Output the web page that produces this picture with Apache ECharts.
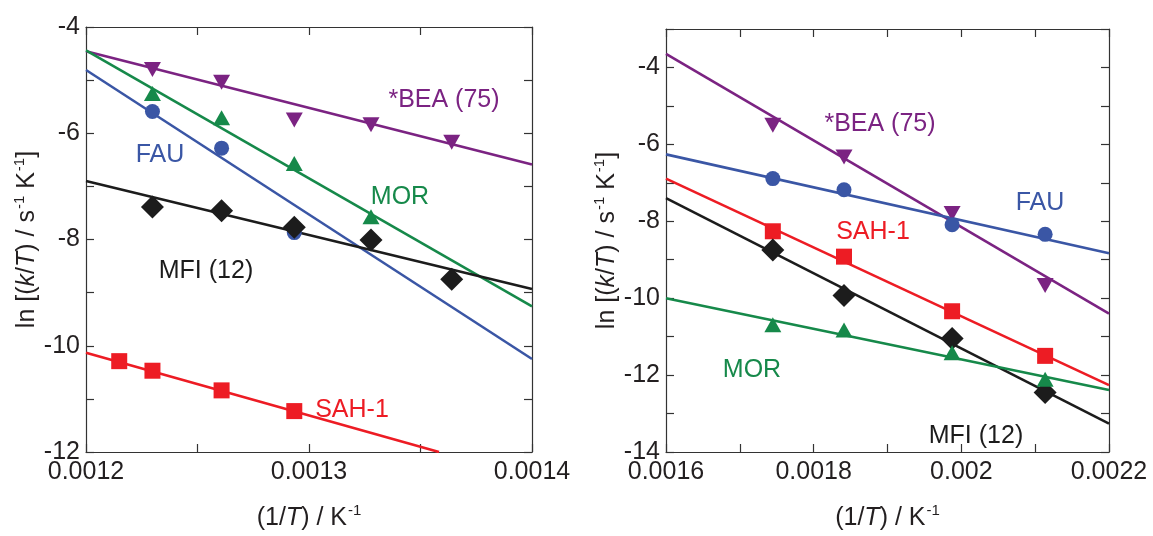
<!DOCTYPE html>
<html>
<head>
<meta charset="utf-8">
<title>Arrhenius plots</title>
<script src="https://cdn.jsdelivr.net/npm/echarts@6/dist/echarts.min.js"></script>
<style>
  html, body { margin: 0; padding: 0; background: #fff; }
  #chart { width: 1153px; height: 536px; }
</style>
</head>
<body>
<div id="chart"></div>
<script>
// ---- Left panel: (1/T) in K^-1, ln[(k/T)/s^-1 K^-1] ----
const leftBeaX = [0.0012298, 0.0012608, 0.0012934, 0.0013278, 0.0013640];
const leftBeaY = [-4.80, -5.04, -5.75, -5.84, -6.17];
const leftMorX = [0.0012298, 0.0012608, 0.0012934, 0.0013278];
const leftMorY = [-5.25, -5.71, -6.57, -7.57];
const leftFauX = [0.0012298, 0.0012608, 0.0012934];
const leftFauY = [-5.59, -6.28, -7.87];
const leftMfiX = [0.0012298, 0.0012608, 0.0012934, 0.0013278, 0.0013640];
const leftMfiY = [-7.39, -7.46, -7.77, -8.01, -8.75];
const leftSahX = [0.0012149, 0.0012298, 0.0012608, 0.0012934];
const leftSahY = [-10.29, -10.47, -10.84, -11.23];

// fitted lines (end points)
const leftBeaFitX = [0.0012, 0.0014];   const leftBeaFitY = [-4.455, -6.59];
const leftMorFitX = [0.0012, 0.0014];   const leftMorFitY = [-4.44, -9.26];
const leftFauFitX = [0.0012, 0.0014];   const leftFauFitY = [-4.81, -10.25];
const leftMfiFitX = [0.0012, 0.0014];   const leftMfiFitY = [-6.90, -8.93];
const leftSahFitX = [0.0012, 0.0013583]; const leftSahFitY = [-10.13, -12.0];

// ---- Right panel ----
const rightX = [0.0017447, 0.0018411, 0.0019875, 0.0021135];
const rightBeaY = [-5.50, -6.33, -7.80, -9.67];
const rightFauY = [-6.89, -7.18, -8.09, -8.34];
const rightSahY = [-8.26, -8.92, -10.34, -11.50];
const rightMfiY = [-8.75, -9.93, -11.05, -12.45];
const rightMorY = [-10.69, -10.83, -11.42, -12.11];

const rightFitX = [0.0016, 0.0022];
const rightBeaFitY = [-3.65, -10.40];
const rightFauFitY = [-6.26, -8.83];
const rightSahFitY = [-6.89, -12.26];
const rightMfiFitY = [-7.40, -13.26];
const rightMorFitY = [-10.00, -12.39];

// axis ranges, tick steps and label steps
const leftXRange = [0.0012, 0.0014];  const leftXStep = 0.00005; const leftXLabelStep = 0.0001;
const leftYRange = [-12, -4];         const leftYStep = 1;       const leftYLabelStep = 2;
const rightXRange = [0.0016, 0.0022]; const rightXStep = 0.0001; const rightXLabelStep = 0.0002;
const rightYRange = [-14, -3];        const rightYStep = 1;      const rightYLabelStep = 2;

const COLORS = {
  bea: '#7b2382',
  fau: '#3a56a5',
  mor: '#16894a',
  mfi: '#1c1c1c',
  sah: '#ed1c24'
};
const FONT = "'Liberation Sans', Arial, Helvetica, sans-serif";
const INK = '#231f20';

function zip(xs, ys) { return xs.map((x, i) => [x, ys[i]]); }

const chart = echarts.init(document.getElementById('chart'), null, { renderer: 'canvas' });

// label only the ticks that fall on a multiple of labelStep
function labelEvery(labelStep) {
  return function (v) {
    const n = v / labelStep;
    if (Math.abs(n - Math.round(n)) > 1e-6) return '';
    return String(parseFloat(v.toFixed(5)));
  };
}

const axisLine = { show: true, onZero: false, lineStyle: { color: '#333', width: 1.2 } };
const axisTick = { show: true, inside: true, length: 8, lineStyle: { color: '#333', width: 1.2 } };
const labelStyle = { color: INK, fontSize: 25, fontFamily: FONT };

const yName = '{t|ln [(}{i|k}{t|/}{i|T}{t|) / s}{s|-1}{t| K}{s|-1}{t|]}';
const xName = '{t|(1/}{i|T}{t|) / K}{s|-1}';
const nameRich = {
  t: { fontSize: 25, fontFamily: FONT, color: INK, lineHeight: 32, verticalAlign: 'bottom' },
  i: { fontSize: 25, fontFamily: FONT, color: INK, fontStyle: 'italic', lineHeight: 32, verticalAlign: 'bottom' },
  s: { fontSize: 15, fontFamily: FONT, color: INK, lineHeight: 32, verticalAlign: 'bottom', padding: [0, 0, 13, 1] }
};

function mainX(gridIndex, range, step, labelStep) {
  return {
    type: 'value', gridIndex, position: 'bottom', min: range[0], max: range[1], interval: step,
    axisLine, axisTick, splitLine: { show: false },
    axisLabel: { ...labelStyle, margin: 8, formatter: labelEvery(labelStep), showMinLabel: true, showMaxLabel: true, hideOverlap: false },
    name: xName, nameLocation: 'middle', nameGap: 47, nameTextStyle: { rich: nameRich }
  };
}
function mirrorX(gridIndex, range, step) {
  return {
    type: 'value', gridIndex, position: 'top', min: range[0], max: range[1], interval: step,
    axisLine, axisTick, splitLine: { show: false }, axisLabel: { show: false }
  };
}
function mainY(gridIndex, range, step, labelStep) {
  return {
    type: 'value', gridIndex, position: 'left', min: range[0], max: range[1], interval: step,
    axisLine, axisTick, splitLine: { show: false },
    axisLabel: { ...labelStyle, margin: 6, formatter: labelEvery(labelStep), hideOverlap: false },
    name: yName, nameLocation: 'middle', nameRotate: 90, nameGap: 40, nameTextStyle: { rich: nameRich }
  };
}
function mirrorY(gridIndex, range, step) {
  return {
    type: 'value', gridIndex, position: 'right', min: range[0], max: range[1], interval: step,
    axisLine, axisTick, splitLine: { show: false }, axisLabel: { show: false }
  };
}

function fitLine(name, xi, yi, xs, ys, color) {
  return {
    name, type: 'line', xAxisIndex: xi, yAxisIndex: yi, data: zip(xs, ys),
    symbol: 'none', lineStyle: { color, width: 2.6 }, silent: true, z: 2, animation: false
  };
}
function points(name, xi, yi, xs, ys, color, symbol, size, rotate) {
  return {
    name, type: 'scatter', xAxisIndex: xi, yAxisIndex: yi, data: zip(xs, ys),
    symbol, symbolSize: size, symbolRotate: rotate || 0,
    itemStyle: { color, opacity: 1 }, z: 3, animation: false
  };
}

const SYM = {
  down: ['triangle', [17, 15], 180],
  up: ['triangle', [17, 15], 0],
  circle: ['circle', 15, 0],
  diamond: ['diamond', [23, 23], 0],
  square: ['rect', [16, 16], 0]
};

function labelText(text, x, y, color) {
  return {
    type: 'text', x, y, z: 10,
    style: { text, fill: color, font: '25px ' + FONT, textAlign: 'center', textVerticalAlign: 'middle' }
  };
}

const option = {
  backgroundColor: '#ffffff',
  animation: false,
  grid: [
    { left: 86, top: 27, width: 446, height: 446 },
    { left: 666, top: 29, width: 443, height: 443 }
  ],
  xAxis: [
    mainX(0, leftXRange, leftXStep, leftXLabelStep),
    mirrorX(0, leftXRange, leftXStep),
    mainX(1, rightXRange, rightXStep, rightXLabelStep),
    mirrorX(1, rightXRange, rightXStep)
  ],
  yAxis: [
    mainY(0, leftYRange, leftYStep, leftYLabelStep),
    mirrorY(0, leftYRange, leftYStep),
    mainY(1, rightYRange, rightYStep, rightYLabelStep),
    mirrorY(1, rightYRange, rightYStep)
  ],
  series: [
    fitLine('*BEA (75) fit', 0, 0, leftBeaFitX, leftBeaFitY, COLORS.bea),
    fitLine('MOR fit', 0, 0, leftMorFitX, leftMorFitY, COLORS.mor),
    fitLine('FAU fit', 0, 0, leftFauFitX, leftFauFitY, COLORS.fau),
    fitLine('MFI (12) fit', 0, 0, leftMfiFitX, leftMfiFitY, COLORS.mfi),
    fitLine('SAH-1 fit', 0, 0, leftSahFitX, leftSahFitY, COLORS.sah),
    points('*BEA (75)', 0, 0, leftBeaX, leftBeaY, COLORS.bea, ...SYM.down),
    points('MOR', 0, 0, leftMorX, leftMorY, COLORS.mor, ...SYM.up),
    points('FAU', 0, 0, leftFauX, leftFauY, COLORS.fau, ...SYM.circle),
    points('MFI (12)', 0, 0, leftMfiX, leftMfiY, COLORS.mfi, ...SYM.diamond),
    points('SAH-1', 0, 0, leftSahX, leftSahY, COLORS.sah, ...SYM.square),

    fitLine('*BEA (75) fit R', 2, 2, rightFitX, rightBeaFitY, COLORS.bea),
    fitLine('FAU fit R', 2, 2, rightFitX, rightFauFitY, COLORS.fau),
    fitLine('SAH-1 fit R', 2, 2, rightFitX, rightSahFitY, COLORS.sah),
    fitLine('MFI (12) fit R', 2, 2, rightFitX, rightMfiFitY, COLORS.mfi),
    fitLine('MOR fit R', 2, 2, rightFitX, rightMorFitY, COLORS.mor),
    points('*BEA (75) R', 2, 2, rightX, rightBeaY, COLORS.bea, ...SYM.down),
    points('FAU R', 2, 2, rightX, rightFauY, COLORS.fau, ...SYM.circle),
    points('SAH-1 R', 2, 2, rightX, rightSahY, COLORS.sah, ...SYM.square),
    points('MFI (12) R', 2, 2, rightX, rightMfiY, COLORS.mfi, ...SYM.diamond),
    points('MOR R', 2, 2, rightX, rightMorY, COLORS.mor, ...SYM.up)
  ],
  graphic: [
    labelText('*BEA (75)', 444, 100, COLORS.bea),
    labelText('FAU', 160, 155, COLORS.fau),
    labelText('MOR', 400, 197, COLORS.mor),
    labelText('MFI (12)', 206, 271, COLORS.mfi),
    labelText('SAH-1', 352, 410, COLORS.sah),
    labelText('*BEA (75)', 880, 124, COLORS.bea),
    labelText('FAU', 1040, 203, COLORS.fau),
    labelText('SAH-1', 873, 232, COLORS.sah),
    labelText('MOR', 752, 370, COLORS.mor),
    labelText('MFI (12)', 976, 436, COLORS.mfi)
  ]
};

chart.setOption(option);
</script>
</body>
</html>
